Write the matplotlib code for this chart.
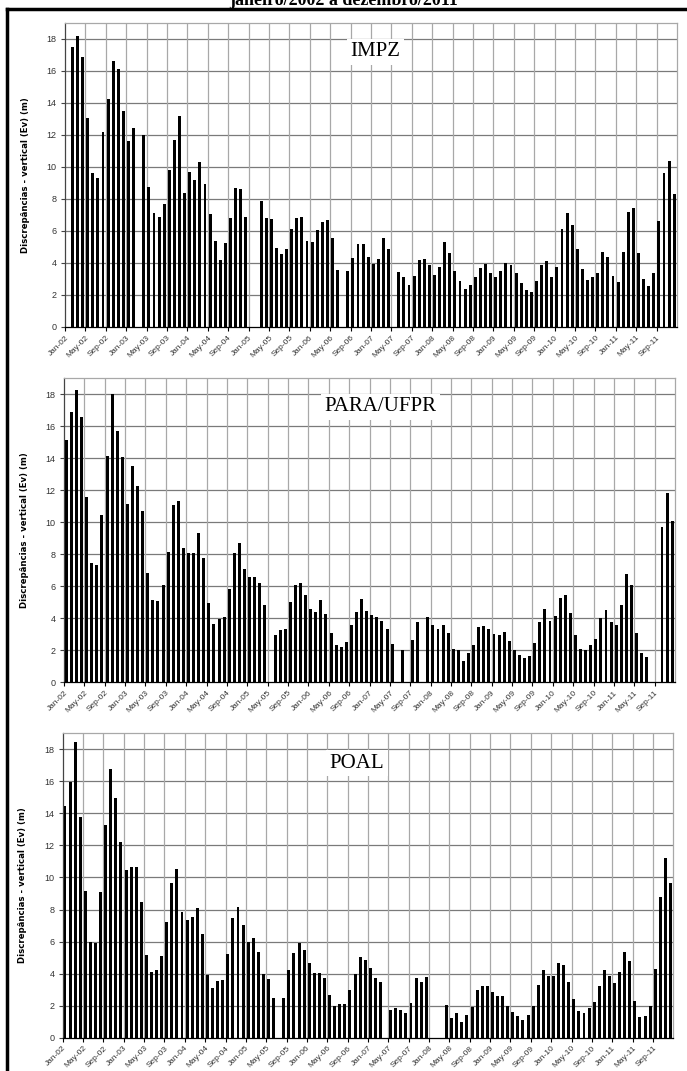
import numpy as np
import matplotlib
matplotlib.use("Agg")
import matplotlib.pyplot as plt
from matplotlib.lines import Line2D

nan = np.nan

title = "janeiro/2002 a dezembro/2011"
ylabel = "Discrepâncias - vertical (Ev) (m)"
station_names = ["IMPZ", "PARA/UFPR", "POAL"]

months = ["Jan", "May", "Sep"]
years = ["02", "03", "04", "05", "06", "07", "08", "09", "10", "11"]
tick_labels = [f"{m}-{y}" for y in years for m in months]

impz = [nan, 17.5, 18.2, 16.9, 13.05, 9.65, 9.3, 12.2, 14.25, 16.6, 16.15, 13.5,
        11.65, 12.45, nan, 12.0, 8.75, 7.15, 6.85, 7.7, 9.8, 11.7, 13.2, 8.4,
        9.7, 9.2, 10.3, 8.95, 7.05, 5.4, 4.2, 5.25, 6.8, 8.7, 8.6, 6.9,
        nan, nan, 7.9, 6.8, 6.75, 4.95, 4.55, 4.9, 6.15, 6.8, 6.85, 5.35,
        5.3, 6.05, 6.55, 6.7, 5.55, 3.55, nan, 3.5, 4.3, 5.2, 5.2, 4.35,
        3.95, 4.25, 5.55, 4.9, nan, 3.45, 3.15, 2.65, 3.2, 4.2, 4.25, 3.85,
        3.25, 3.75, 5.3, 4.65, 3.5, 2.85, 2.4, 2.6, 3.15, 3.7, 3.95, 3.4,
        3.1, 3.5, 4.0, 3.85, 3.35, 2.75, 2.3, 2.2, 2.85, 3.85, 4.15, 3.15,
        3.75, 6.15, 7.1, 6.4, 4.85, 3.65, 2.95, 3.1, 3.4, 4.7, 4.4, 3.2,
        2.8, 4.7, 7.2, 7.45, 4.65, 3.0, 2.55, 3.4, 6.6, 9.6, 10.4, 8.3]

para = [15.1, 16.85, 18.25, 16.55, 11.55, 7.45, 7.3, 10.45, 14.15, 18.0, 15.7, 14.05,
        11.15, 13.5, 12.25, 10.7, 6.8, 5.15, 5.05, 6.1, 8.15, 11.1, 11.3, 8.4,
        8.05, 8.05, 9.3, 7.75, 4.95, 3.65, 3.95, 4.1, 5.85, 8.05, 8.7, 7.1,
        6.55, 6.6, 6.2, 4.85, nan, 2.95, 3.25, 3.35, 5.0, 6.05, 6.2, 5.45,
        4.6, 4.4, 5.15, 4.25, 3.05, 2.3, 2.2, 2.5, 3.55, 4.4, 5.2, 4.45,
        4.2, 4.1, 3.8, 3.3, 2.4, nan, 2.0, nan, 2.65, 3.75, nan, 4.1,
        3.6, 3.3, 3.55, 3.1, 2.05, 2.0, 1.3, 1.85, 2.35, 3.45, 3.5, 3.35,
        3.0, 2.95, 3.15, 2.55, 2.0, 1.7, 1.5, 1.65, 2.45, 3.75, 4.55, 3.85,
        4.15, 5.25, 5.45, 4.35, 2.95, 2.05, 2.0, 2.3, 2.7, 4.0, 4.5, 3.75,
        3.55, 4.8, 6.75, 6.1, 3.05, 1.85, 1.6, nan, nan, 9.7, 11.8, 10.1]

poal = [14.45, 15.95, 18.45, 13.75, 9.15, 5.95, 5.9, 9.1, 13.25, 16.8, 14.95, 12.2,
        10.45, 10.65, 10.65, 8.45, 5.15, 4.1, 4.2, 5.1, 7.2, 9.65, 10.5, 7.85,
        7.35, 7.55, 8.1, 6.45, 3.9, 3.1, 3.55, 3.6, 5.2, 7.45, 8.15, 7.05,
        5.95, 6.25, 5.35, 3.95, 3.65, 2.45, nan, 2.5, 4.2, 5.3, 5.9, 5.5,
        4.65, 4.05, 4.05, 3.7, 2.65, 2.0, 2.1, 2.1, 2.95, 4.0, 5.05, 4.85,
        4.35, 3.7, 3.45, nan, 1.7, 1.85, 1.75, 1.55, 2.15, 3.7, 3.45, 3.8,
        nan, nan, nan, 2.05, 1.25, 1.55, 1.0, 1.4, 1.9, 3.0, 3.25, 3.25,
        2.85, 2.6, 2.6, 2.0, 1.6, 1.35, 1.1, 1.4, 2.0, 3.3, 4.2, 3.85,
        3.85, 4.65, 4.55, 3.45, 2.4, 1.65, 1.55, 1.85, 2.25, 3.2, 4.2, 3.85,
        3.4, 4.1, 5.35, 4.8, 2.3, 1.3, 1.35, 2.0, 4.3, 8.8, 11.2, 9.65]

series = [impz, para, poal]

W, H = 687, 1071
fig = plt.figure(figsize=(W / 100, H / 100), dpi=100)

# axes boxes in pixels: left, right, top, bottom(zero line)
boxes = [(65, 677, 23, 327), (64, 675, 378, 682.3), (62.7, 673.3, 733.3, 1037.7)]
label_pos = [(0.507, 0.905), (0.518, 0.905), (0.4815, 0.901)]

for k, (vals, name) in enumerate(zip(series, station_names)):
    l, r, t, b = boxes[k]
    ax = fig.add_axes([l / W, 1 - b / H, (r - l) / W, (b - t) / H])
    v = np.array(vals, dtype=float)
    idx = np.arange(len(v))
    ok = ~np.isnan(v)
    ax.bar(idx[ok] + 0.45, v[ok], width=0.58, color="black", zorder=3)
    ax.set_xlim(0, len(v))
    ax.set_ylim(0, 19)
    ax.set_yticks(np.arange(0, 19, 2))
    ax.set_xticks(np.arange(0, len(v), 4))
    ax.set_xticklabels(tick_labels, rotation=45, ha="right", va="top",
                       rotation_mode="anchor", fontsize=6, color="#333333",
                       family="Liberation Sans")
    for lab in ax.get_yticklabels():
        lab.set_fontsize(6.5)
        lab.set_color("#333333")
        lab.set_family("Liberation Sans")
    ax.tick_params(axis="x", length=3, width=0.8, color="black", pad=2)
    ax.tick_params(axis="y", length=3, width=0.8, color="#444444", pad=3)
    for yv in np.arange(2, 19, 2):
        ax.axhline(yv, color="#7a7a7a", lw=0.9, zorder=1)
    for xv in np.arange(4, len(v), 4):
        ax.axvline(xv, color="#a8a8a8", lw=0.9, zorder=1)
    ax.spines["top"].set_color("#a8a8a8")
    ax.spines["right"].set_color("#a8a8a8")
    ax.spines["left"].set_color("#444444")
    ax.spines["bottom"].set_color("black")
    for s in ax.spines.values():
        s.set_linewidth(0.9)
    ax.set_ylabel(ylabel, fontsize=6.8, fontweight="bold",
                  family="DejaVu Sans", fontstretch="condensed", labelpad=12)
    ax.yaxis.set_label_coords(-0.058, 0.5)
    ax.text(label_pos[k][0], label_pos[k][1], name, transform=ax.transAxes,
            ha="center", va="center", fontsize=15, family="Liberation Serif",
            zorder=4, bbox=dict(facecolor="white", edgecolor="none", pad=2.5))

# outer frame and clipped title
fig.add_artist(Line2D([7 / W, 7 / W], [0, 1 - 9 / H], color="black", lw=2.5))
fig.add_artist(Line2D([7 / W, 1], [1 - 9 / H, 1 - 9 / H], color="black", lw=2.5))
fig.text(0.5, 1 - 5 / H, title, ha="center", va="baseline", fontsize=13,
         family="Liberation Serif", fontweight="bold")

fig.savefig("out.png", dpi=100)
